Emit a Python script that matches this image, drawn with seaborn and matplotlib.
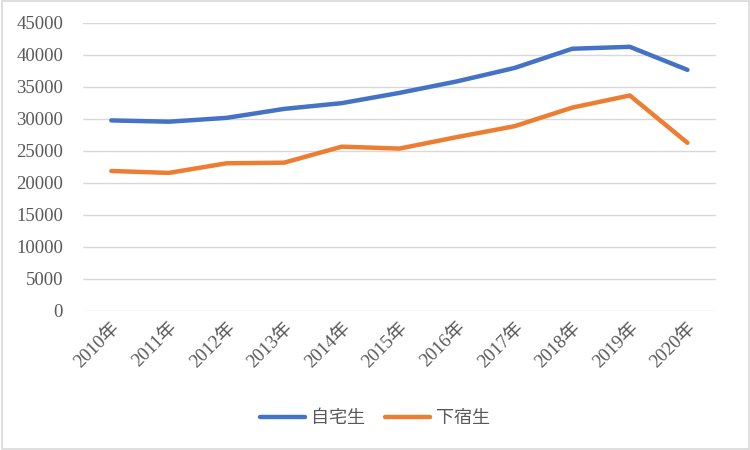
import matplotlib
matplotlib.use("Agg")
import matplotlib.pyplot as plt
import seaborn as sns
import pandas as pd

years = ["2010年", "2011年", "2012年", "2013年", "2014年", "2015年",
         "2016年", "2017年", "2018年", "2019年", "2020年"]
home = [29700, 29500, 30100, 31500, 32400, 34000, 35800, 37900, 40900, 41200, 37600]
lodging = [21800, 21500, 23000, 23100, 25600, 25300, 27100, 28800, 31700, 33600, 26200]
series_names = ["自宅生", "下宿生"]
colors = ["#4472C4", "#ED7D31"]
yticks = list(range(0, 45001, 5000))

df = pd.DataFrame({
    "year": years * 2,
    "value": home + lodging,
    "series": [series_names[0]] * len(years) + [series_names[1]] * len(years),
})

sns.set_theme(style="white")
plt.rcParams["font.family"] = ["Liberation Serif", "Noto Sans CJK JP", "DejaVu Sans"]

fig = plt.figure(figsize=(7.5, 4.5), dpi=100)
ax = fig.add_axes([0.11, 0.31, 0.845, 0.64])

sns.lineplot(data=df, x="year", y="value", hue="series", palette=colors,
             linewidth=3.2, ax=ax, sort=False)

ax.set_ylim(0, 45000)
ax.set_yticks(yticks)
ax.set_xlim(-0.5, len(years) - 0.5)
ax.grid(axis="y", color="#D9D9D9", linewidth=1)
ax.grid(axis="x", visible=False)
for s in ax.spines.values():
    s.set_visible(False)
ax.set_xlabel("")
ax.set_ylabel("")
ax.tick_params(axis="both", length=0, colors="#595959", labelsize=13.5)
ax.tick_params(axis="y", pad=14)
ax.tick_params(axis="x", pad=6)
plt.setp(ax.get_xticklabels(), rotation=45, ha="right", rotation_mode="anchor")

leg = ax.legend(loc="center", bbox_to_anchor=(0.5, 32 / 450),
                bbox_transform=fig.transFigure, ncol=2,
                frameon=False, fontsize=13, handlelength=2.5, columnspacing=1.1,
                handletextpad=0.33)
for t in leg.get_texts():
    t.set_color("#595959")
    t.set_family(["Noto Sans CJK JP", "DejaVu Sans"])

fig.patches.append(plt.Rectangle((0.002, 0.002), 0.996, 0.996, transform=fig.transFigure,
                                 fill=False, edgecolor="#D9D9D9", linewidth=1.2))
fig.savefig("out.png", dpi=100, facecolor="white")
